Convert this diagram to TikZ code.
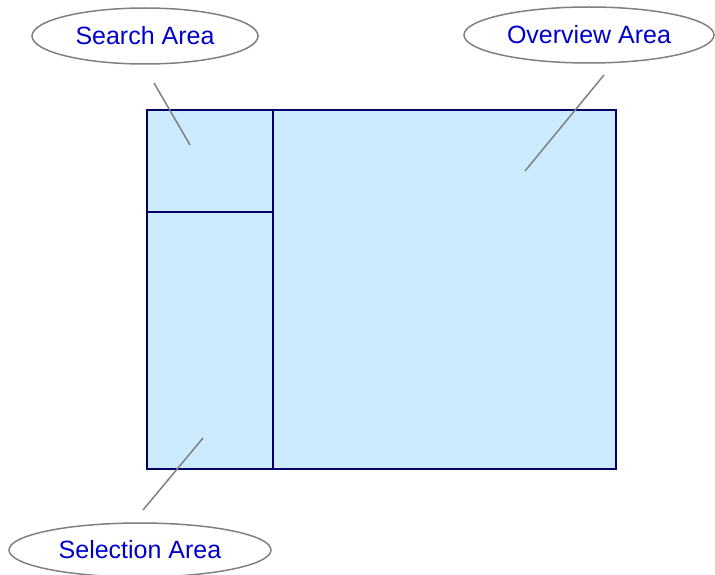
\documentclass[tikz,border=0pt]{standalone}
\usepackage{fontspec}
\setmainfont{Liberation Sans}
\usetikzlibrary{shapes.geometric}
\definecolor{lblue}{RGB}{0,0,204}
\definecolor{areafill}{RGB}{204,235,255}
\definecolor{navy}{RGB}{0,0,102}
\definecolor{lgray}{RGB}{128,128,128}
\tikzset{
  callout/.style={draw=lgray, line width=1.5pt, ellipse, inner sep=0pt, text=lblue, font=\fontsize{25}{30}\selectfont},
  area/.style={draw=navy, line width=2pt, fill=areafill},
  leader/.style={draw=lgray, line width=1.5pt},
}
\begin{document}
\begin{tikzpicture}[x=1pt,y=-1pt]
\useasboundingbox (0,0) rectangle (715,575);
\draw[area] (147,110) rectangle (616,469);
\draw[navy, line width=2pt] (273,110) -- (273,469);
\draw[navy, line width=2pt] (147,212) -- (273,212);
\node[callout, minimum width=226, minimum height=56] (search) at (145,36) {Search Area};
\node[callout, minimum width=250, minimum height=56] (overview) at (589,35) {Overview Area};
\node[callout, minimum width=262, minimum height=54] (selection) at (140,550) {Selection Area};
\coordinate (s1) at (154,83); \coordinate (s2) at (190,145);
\coordinate (o1) at (604,75); \coordinate (o2) at (525,171);
\coordinate (l1) at (143,510); \coordinate (l2) at (203,438);
\draw[leader] (s1) -- (s2);
\draw[leader] (o1) -- (o2);
\draw[leader] (l1) -- (l2);
\end{tikzpicture}
\end{document}
